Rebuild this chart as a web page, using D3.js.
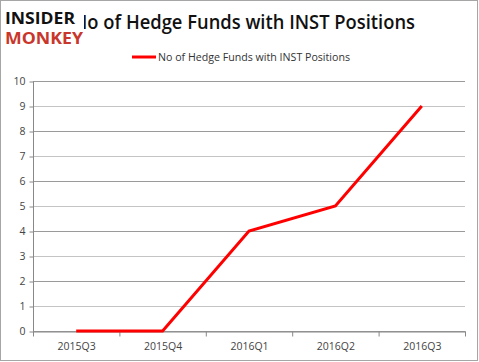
<!DOCTYPE html>
<html lang="en">
<head>
  <meta charset="UTF-8">
  <title>INST hedge funds</title>
  <style>
    body { margin: 0; background: #ffffff }
    #thesvg { width: 479px; height: 362px; display: block }
    text { font-family: "Open Sans", sans-serif }
  </style>
</head>
<body>
  <script src="https://d3js.org/d3.v7.min.js"></script>
  <svg id="thesvg"></svg>
  <script>

    var quarters = ["2015Q3", "2015Q4", "2016Q1", "2016Q2", "2016Q3"];
    var funds = [0, 0, 4, 5, 9];
    var yTicks = [0, 1, 2, 3, 4, 5, 6, 7, 8, 9, 10];
    var seriesName = "No of Hedge Funds with INST Positions";

    var svg = d3.select("svg");

    // outer frame
    svg.append("rect")
      .attr("x", 0.5).attr("y", 0.5)
      .attr("width", 477).attr("height", 360)
      .attr("fill", "#fff").attr("stroke", "#a6a6a6");

    var x = d3.scaleBand().domain(quarters).range([33, 465]);
    var y = d3.scaleLinear().domain([0, 10]).range([331, 81]);

    // gridlines
    svg.append("g")
      .selectAll("line")
      .data(yTicks)
      .enter()
      .append("line")
      .attr("x1", 33).attr("x2", 465)
      .attr("y1", d => Math.round(y(d)) + 0.5)
      .attr("y2", d => Math.round(y(d)) + 0.5)
      .attr("stroke", (d, i) => i % 2 ? "#c4c4c4" : "#9a9a9a");

    // y axis
    var yAxis = svg.append("g")
      .attr("transform", "translate(33.5,0.5)")
      .call(d3.axisLeft(y).tickValues(yTicks).tickSize(4).tickPadding(4));
    yAxis.select(".domain").attr("stroke", "#888").attr("d", "M0," + 81 + "V" + 331);
    yAxis.selectAll(".tick line").attr("stroke", "#888");
    yAxis.selectAll("text").attr("font-size", 10.5).attr("fill", "#444");

    // x axis
    var xAxis = svg.append("g")
      .attr("transform", "translate(0.5," + (331.5) + ")")
      .call(d3.axisBottom(x).tickSize(0).tickPadding(11));
    xAxis.select(".domain").attr("stroke", "#888");
    xAxis.selectAll("text").attr("font-size", 10.5).attr("fill", "#444");
    xAxis.selectAll(".sep")
      .data(quarters.concat(["end"]))
      .enter()
      .append("line")
      .attr("x1", (d, i) => 33 + i * x.step())
      .attr("x2", (d, i) => 33 + i * x.step())
      .attr("y1", 0).attr("y2", 5)
      .attr("stroke", "#888");

    // series line
    var line = d3.line()
      .x((d, i) => x(quarters[i]) + x.bandwidth() / 2)
      .y(d => y(d));
    svg.append("path")
      .datum(funds)
      .attr("d", line)
      .attr("fill", "none")
      .attr("stroke", "#ff0000")
      .attr("stroke-width", 3);

    // title
    svg.append("text")
      .attr("x", 73).attr("y", 29)
      .attr("font-size", 19.5)
      .attr("font-weight", 600)
      .attr("textLength", 342).attr("lengthAdjust", "spacingAndGlyphs")
      .attr("fill", "#111")
      .text(seriesName);

    // legend
    svg.append("line")
      .attr("x1", 132).attr("x2", 156)
      .attr("y1", 57).attr("y2", 57)
      .attr("stroke", "#ff0000").attr("stroke-width", 3);
    svg.append("text")
      .attr("x", 158).attr("y", 61)
      .attr("font-size", 11)
      .attr("textLength", 192).attr("lengthAdjust", "spacingAndGlyphs")
      .attr("fill", "#333")
      .text(seriesName);

    // logo
    svg.append("rect")
      .attr("x", 3).attr("y", 6)
      .attr("width", 81).attr("height", 40)
      .attr("fill", "#fff");
    svg.append("text")
      .attr("x", 5).attr("y", 24)
      .attr("font-family", "'DejaVu Sans Condensed', sans-serif")
      .attr("font-weight", "bold").attr("font-size", 16)
      .attr("textLength", 70).attr("lengthAdjust", "spacingAndGlyphs")
      .attr("fill", "#111")
      .text("INSIDER");
    svg.append("text")
      .attr("x", 5).attr("y", 44)
      .attr("font-family", "'DejaVu Sans Condensed', sans-serif")
      .attr("font-weight", "bold").attr("font-size", 16)
      .attr("textLength", 78).attr("lengthAdjust", "spacingAndGlyphs")
      .attr("fill", "#c9372c")
      .text("MONKEY");
  </script>
</body>
</html>
